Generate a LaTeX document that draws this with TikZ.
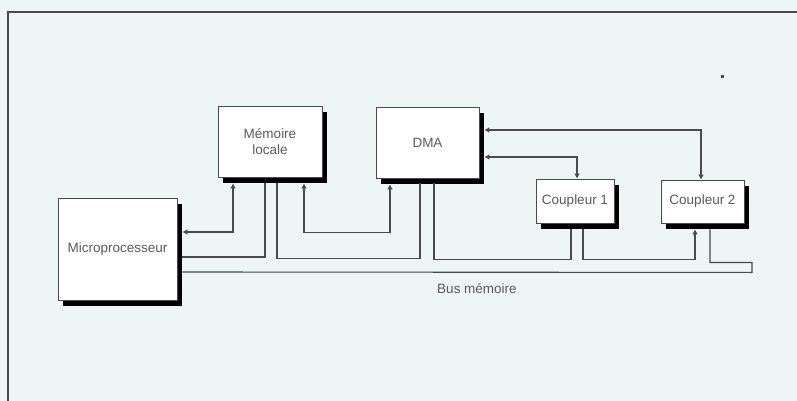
\documentclass[tikz,border=0pt]{standalone}
\usepackage{fontspec}
\setmainfont{Liberation Sans}
\usetikzlibrary{shadows,arrows.meta}
\definecolor{bgc}{HTML}{EEF5F5}
\definecolor{linec}{HTML}{4A4A4A}
\definecolor{txtc}{HTML}{5A5A5A}
\tikzset{
  unit/.style={draw=linec, line width=0.9pt, fill=white, inner sep=0pt,
    align=center, text=txtc, font=\fontsize{13.5}{16}\selectfont,
    general shadow={fill=black, shadow xshift=5pt, shadow yshift=-6pt}},
  wire/.style={draw=linec, line width=1.1pt},
  bi/.style={wire, {Latex[length=5pt,width=6pt]}-{Latex[length=5pt,width=6pt]}},
  toend/.style={wire, -{Latex[length=5pt,width=6pt]}},
  lbl/.style={text=txtc, font=\fontsize{13.5}{16}\selectfont, inner sep=0pt}
}
\begin{document}
\begin{tikzpicture}[x=1pt,y=-1pt]
\fill[bgc] (0,0) rectangle (797,401);
\useasboundingbox (0,0) rectangle (797,401);
% frame
\draw[linec, line width=2pt] (8,401) -- (8,12) -- (797,12);
% speck
\fill[linec] (720.5,75.5) rectangle (723.5,78.5);
% units
\node[unit, minimum width=119pt, minimum height=102pt] (up) at (117.5,249) {Microprocesseur};
\node[unit, minimum width=104pt, minimum height=71pt] (mem) at (270,141.5) {Mémoire\\locale};
\node[unit, minimum width=103pt, minimum height=71pt] (dma) at (427.5,142.5) {DMA};
\node[unit, minimum width=78pt, minimum height=44pt] (c1) at (575,201) {Coupleur 1};
\node[unit, minimum width=83pt, minimum height=43pt] (c2) at (702.5,201.5) {Coupleur 2};
% memory <-> microprocessor
\draw[bi] ([xshift=-37pt,yshift=-6pt]mem.south) |- ([xshift=5pt,yshift=17pt]up.east);
% memory <-> DMA
\draw[bi] ([xshift=34pt,yshift=-6pt]mem.south) -- ++(0,49) -| ([xshift=-37.5pt,yshift=-6pt]dma.south);
% chain
\draw[wire] ([xshift=5pt,yshift=-8pt]up.east) -| ([xshift=-5pt,yshift=-6pt]mem.south);
\draw[wire] ([xshift=7pt,yshift=-6pt]mem.south) -- ++(0,75) -| ([xshift=-7.5pt,yshift=-5pt]dma.south);
\draw[wire] ([xshift=6.5pt,yshift=-5pt]dma.south) -- ++(0,76) -| ([xshift=-4pt,yshift=-6pt]c1.south);
\draw[toend] ([xshift=8pt,yshift=-6pt]c1.south) -- ++(0,30) -| ([xshift=-7.5pt,yshift=-6pt]c2.south);
\draw[wire] ([xshift=7.5pt,yshift=-6pt]c2.south) -- ++(0,33) -- ++(42,0) -- ++(0,10) -- ([xshift=5pt,yshift=-23pt]up.east);
% DMA <-> couplers
\draw[bi] ([xshift=5pt,yshift=-14.5pt]dma.east) -| ([xshift=2pt]c1.north);
\draw[bi] ([xshift=5pt,yshift=12.5pt]dma.east) -| ([xshift=-1.5pt]c2.north);
% bus label
\node[lbl] (bus) at (477,289) {Bus mémoire};
\end{tikzpicture}
\end{document}
